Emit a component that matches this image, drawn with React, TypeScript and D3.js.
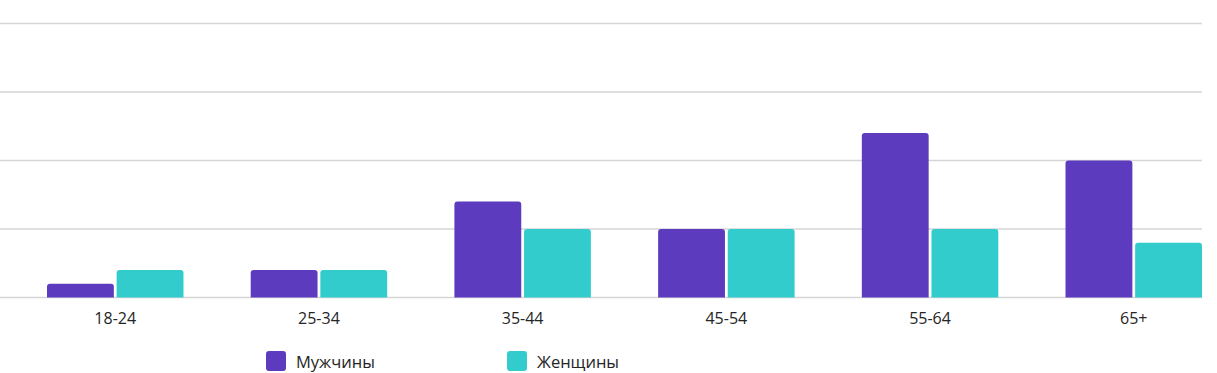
import React from 'react';
import * as d3 from 'd3';

const ageGroups = ['18-24', '25-34', '35-44', '45-54', '55-64', '65+'];
const seriesNames = ['Мужчины', 'Женщины'];
const men = [1, 2, 7, 5, 12, 10];
const women = [2, 2, 5, 5, 5, 4];
const yTicks = [0, 5, 10, 15, 20];

const colors = ['#5c3bbe', '#33cccc'];
const width = 1217;
const height = 373;

// rect with rounded top corners only
function topRoundedRect(x: number, y: number, w: number, h: number, r: number) {
  const rr = Math.min(r, h, w / 2);
  return `M${x},${y + h}V${y + rr}Q${x},${y} ${x + rr},${y}H${x + w - rr}Q${x + w},${y} ${x + w},${y + rr}V${y + h}Z`;
}

export default function App() {
  const x0 = d3.scaleBand<string>()
    .domain(ageGroups)
    .range([47, 1202])
    .paddingInner(0.33)
    .paddingOuter(0);

  const x1 = d3.scaleBand<string>()
    .domain(seriesNames)
    .range([0, x0.bandwidth()])
    .paddingInner(0.04);

  const y = d3.scaleLinear()
    .domain([0, 20])
    .range([297.5, 23.5]);

  const values = [men, women];
  const font = '"Open Sans", "Noto Sans", sans-serif';

  return (
    <svg width={width} height={height} style={{ position: 'absolute', left: 0, top: 0, background: '#fff' }}>
      {/* gridlines */}
      {yTicks.map(t => (
        <line key={t} x1={0} x2={1202} y1={y(t)} y2={y(t)} stroke="#d6d6d6" strokeWidth={1.3} />
      ))}

      {/* bars */}
      {ageGroups.map((g, i) => (
        <g key={g} transform={`translate(${x0(g)},0)`}>
          {seriesNames.map((s, si) => {
            const v = values[si][i];
            const top = y(v);
            return (
              <path
                key={s}
                d={topRoundedRect(x1(s)!, top, x1.bandwidth(), y(0) - top, 3)}
                fill={colors[si]}
              />
            );
          })}
        </g>
      ))}

      {/* x labels */}
      {ageGroups.map(g => (
        <text
          key={g}
          x={x0(g)! + x0.bandwidth() / 2}
          y={324}
          textAnchor="middle"
          fontFamily={font}
          fontSize={16}
          fill="#252525"
        >
          {g}
        </text>
      ))}

      {/* legend */}
      {seriesNames.map((s, si) => {
        const lx = 266 + si * 241;
        return (
          <g key={s} transform={`translate(${lx},351)`}>
            <rect width={20} height={20} rx={3} fill={colors[si]} />
            <text x={30} y={17} fontFamily={font} fontSize={16.5} fill="#252525">{s}</text>
          </g>
        );
      })}
    </svg>
  );
}
